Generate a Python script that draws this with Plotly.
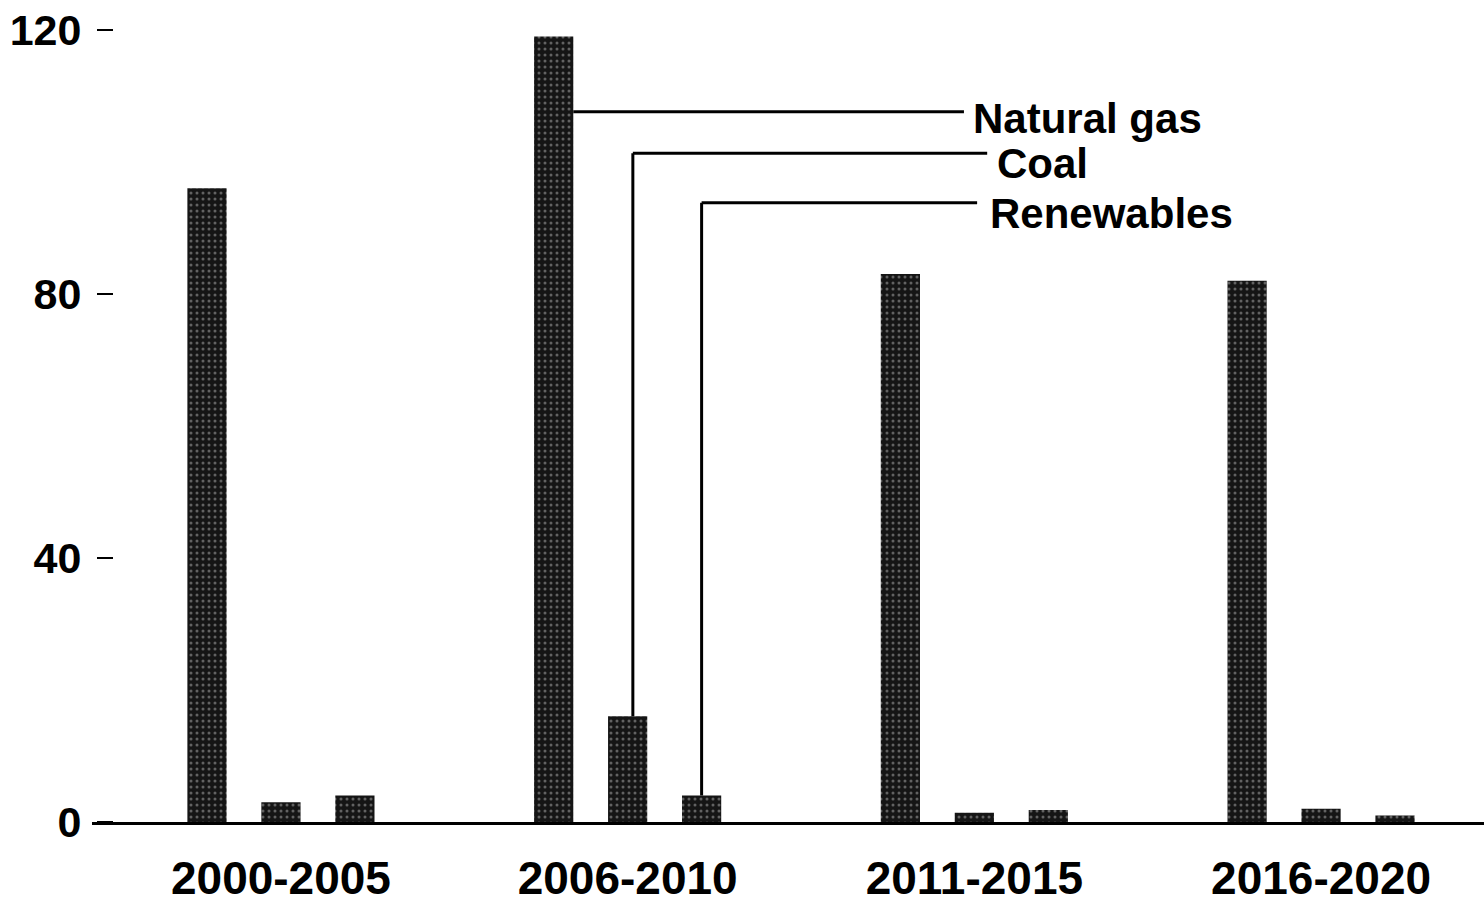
import plotly.graph_objects as go

periods = ["2000-2005", "2006-2010", "2011-2015", "2016-2020"]
natural_gas = [96, 119, 83, 82]
coal = [3, 16, 1.4, 2]
renewables = [4, 4, 1.8, 1]
series_names = ["Natural gas", "Coal", "Renewables"]
y_ticks = [0, 40, 80, 120]

BARGAP = 0.36
BARGROUPGAP = 0.47
FONT = "Liberation Sans, Arial, Helvetica, sans-serif"

pattern = dict(shape=".", fgcolor="#b0b0b0", bgcolor="#151515", size=6, solidity=0.2)

fig = go.Figure()
for name, vals in zip(series_names, [natural_gas, coal, renewables]):
    fig.add_trace(go.Bar(
        x=periods, y=vals, name=name,
        marker=dict(color="#151515", line=dict(width=0), pattern=pattern),
        showlegend=False, hoverinfo="skip",
    ))

slot = (1 - BARGAP) / 3
bw = slot * (1 - BARGROUPGAP)
offs = [-slot, 0, slot]
g = 1  # the 2006-2010 group carries the labels

line = dict(color="black", width=3)
shapes = [
    # Natural gas leader
    dict(type="line", xref="x", yref="y", x0=g + offs[0] + bw / 2, x1=1.97, y0=107.6, y1=107.6, line=line),
    # Coal leader
    dict(type="line", xref="x", yref="y", x0=g + offs[1] + 0.015, x1=g + offs[1] + 0.015, y0=coal[g], y1=101.3, line=line),
    dict(type="line", xref="x", yref="y", x0=g + offs[1] + 0.015, x1=2.037, y0=101.3, y1=101.3, line=line),
    # Renewables leader
    dict(type="line", xref="x", yref="y", x0=g + offs[2], x1=g + offs[2], y0=renewables[g], y1=93.8, line=line),
    dict(type="line", xref="x", yref="y", x0=g + offs[2], x1=2.008, y0=93.8, y1=93.8, line=line),
]

annotations = [
    dict(x=1.99, y=106.6, text="Natural gas", xanchor="left", yanchor="middle", showarrow=False),
    dict(x=2.06, y=99.8, text="Coal", xanchor="left", yanchor="middle", showarrow=False),
    dict(x=2.04, y=92.2, text="Renewables", xanchor="left", yanchor="middle", showarrow=False),
]
for a in annotations:
    a.update(xref="x", yref="y", font=dict(family=FONT, size=42, color="black", weight="bold"))

fig.update_layout(
    width=1484, height=911,
    margin=dict(l=92, r=0, t=10, b=89),
    paper_bgcolor="white", plot_bgcolor="white",
    barmode="group", bargap=BARGAP, bargroupgap=BARGROUPGAP,
    shapes=shapes, annotations=annotations,
    xaxis=dict(
        range=[-0.545, 3.47], showgrid=False, zeroline=False,
        showline=True, linecolor="black", linewidth=3,
        ticks="", ticklabelstandoff=14,
        tickfont=dict(family=FONT, size=46, color="black", weight="bold"),
    ),
    yaxis=dict(
        range=[0, 123], anchor="free", position=0.0151,
        showgrid=False, zeroline=False, showline=False,
        tickvals=y_ticks, ticks="outside", ticklen=16, tickwidth=2, tickcolor="black",
        ticklabelstandoff=7,
        tickfont=dict(family=FONT, size=43, color="black", weight="bold"),
    ),
)

fig.write_html(
    "out.html",
    config={"displayModeBar": False},
    post_script="document.body.style.margin='0';document.body.style.overflow='hidden';",
)
